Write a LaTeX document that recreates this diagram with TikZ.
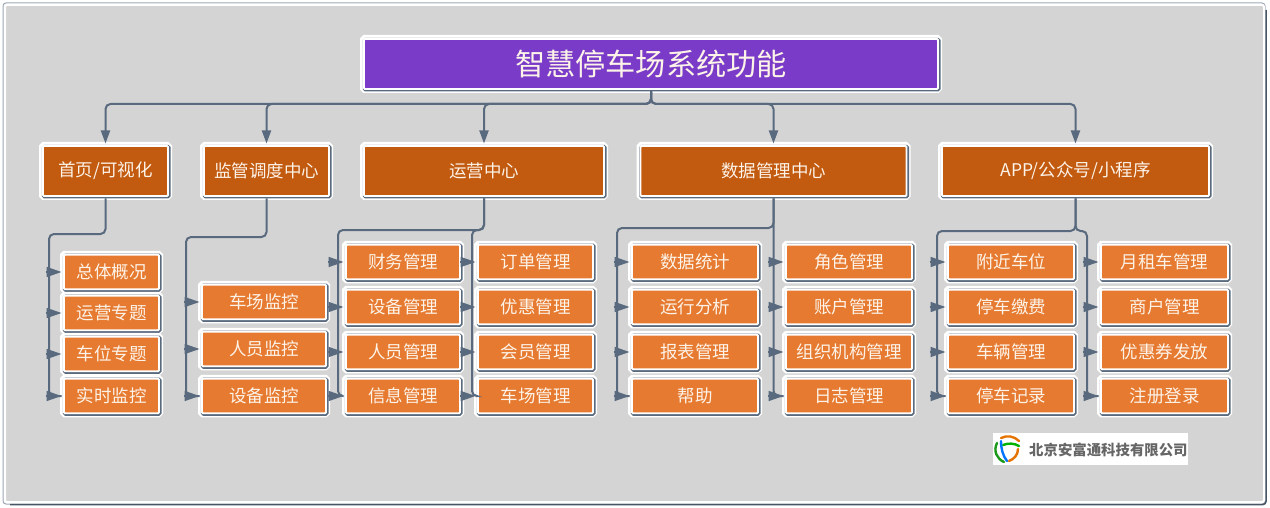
\documentclass[tikz,border=0pt]{standalone}
\usepackage{fontspec}
\setmainfont{Noto Sans CJK SC}
\usetikzlibrary{arrows.meta}

\definecolor{framebg}{HTML}{D4D4D4}
\definecolor{linkgray}{HTML}{5A6A7E}
\definecolor{titlefill}{HTML}{7A3CC8}
\definecolor{mainfill}{HTML}{C25A10}
\definecolor{subfill}{HTML}{E67A30}
\definecolor{labelwhite}{HTML}{FDF3E8}

\tikzset{
  box/.style={draw=white, line width=1.8pt, rounded corners=1pt, inner sep=0pt, outer sep=2.5pt,
    text=labelwhite, align=center,
    preaction={draw=white, line width=8pt},
    preaction={draw=linkgray, line width=3.6pt, transform canvas={xshift=0.7pt,yshift=-0.7pt}}},
  titlebox/.style={box, fill=titlefill, font=\fontsize{30.2}{32}\selectfont},
  mainbox/.style={box, fill=mainfill, minimum height=50pt, font=\fontsize{17.5}{20}\selectfont},
  subbox/.style={box, fill=subfill, minimum height=34.5pt, font=\fontsize{17.5}{20}\selectfont},
  link/.style={draw=linkgray, line width=2pt, rounded corners=5pt},
  toplink/.style={link, -{Triangle[length=13pt,width=9pt]}},
  stub/.style={draw=linkgray, line width=1.5pt, -{Triangle[length=15pt,width=10pt]}}
}

\begin{document}
\begin{tikzpicture}[x=1pt,y=-1pt]
\useasboundingbox (0,0) rectangle (1270,508);

% frame
\draw[draw=linkgray!60, line width=1pt, rounded corners=3pt] (3,3) rectangle (1265,504);
\draw[draw=linkgray!80!black, line width=1.5pt, rounded corners=3pt] (1266,10) -- (1266,504.5) -- (10,504.5);
\draw[draw=white, fill=framebg, line width=2pt, rounded corners=2pt] (5,5) rectangle (1264,502);

% top boxes
\node[titlebox, minimum width=574pt, minimum height=50pt] (title) at (651,64) {智慧停车场系统功能};
\node[mainbox, minimum width=125pt] (home) at (105.5,171) {首页/可视化};
\node[mainbox, minimum width=125pt] (monitor) at (266.5,171) {监管调度中心};
\node[mainbox, minimum width=240pt] (ops) at (484,171) {运营中心};
\node[mainbox, minimum width=266pt] (data) at (773.5,171) {数据管理中心};
\node[mainbox, minimum width=267pt] (app) at (1075.5,171) {APP/公众号/小程序};

% left columns
\foreach \i/\yc/\txt in {1/272/总体概况,2/313/运营专题,3/354/车位专题,4/396/实时监控}{
  \node[subbox, minimum width=95pt] (home\i) at (111.5,\yc) {\txt};
}
\foreach \i/\yc/\txt in {1/302/车场监控,2/349/人员监控,3/396/设备监控}{
  \node[subbox, minimum width=124pt] (monitor\i) at (264,\yc) {\txt};
}

% columns with four equal rows
\foreach \col/\xc/\boxw/\txta/\txtb/\txtc/\txtd in {
  finance/403/114/财务管理/设备管理/人员管理/信息管理,
  order/535.5/115/订单管理/优惠管理/会员管理/车场管理,
  stats/695/126/数据统计/运行分析/报表管理/帮助,
  role/849/126/角色管理/账户管理/组织机构管理/日志管理,
  near/1011/126/附近车位/停车缴费/车辆管理/停车记录,
  rent/1164.5/127/月租车管理/商户管理/优惠券发放/注册登录}{
  \node[subbox, minimum width=\boxw pt] (\col1) at (\xc,262) {\txta};
  \node[subbox, minimum width=\boxw pt] (\col2) at (\xc,307) {\txtb};
  \node[subbox, minimum width=\boxw pt] (\col3) at (\xc,352) {\txtc};
  \node[subbox, minimum width=\boxw pt] (\col4) at (\xc,396) {\txtd};
}

% logo
\node[fill=white, minimum width=195pt, minimum height=32pt, inner sep=0pt] (logo) at (1090.5,449) {};
\node[anchor=west, inner sep=0pt, text=black!60, font=\fontsize{14.4}{16}\selectfont\bfseries] (company) at (1029,449.5) {北京安富通科技有限公司};
\begin{scope}[line width=2.4pt, line cap=round]
\draw[color=green!55!black!90] (997,443) .. controls (993,451) and (997,459) .. (1004,462);
\draw[color=orange!90!black] (1001,438) .. controls (1007,435) and (1014,436) .. (1019,441);
\draw[color=green!70!black] (1003,445) .. controls (1008,443) and (1014,443) .. (1019,446);
\draw[color=blue!55!cyan] (1001,441) .. controls (1001,449) and (1003,456) .. (1007,461);
\draw[color=orange!90!black] (1018,449) .. controls (1018,455) and (1014,459) .. (1009,461);
\end{scope}

% top level
\coordinate (hub) at (651,104);
\foreach \target in {home,monitor,ops,data,app}{
  \draw[toplink] (title.south) -- (hub) -| (\target.north);
}

% lines to the columns
\coordinate (homebus) at (49,234);
\coordinate (monitorbus) at (186,237);
\coordinate (financebus) at (338,230);
\coordinate (orderbus) at (472,230);
\coordinate (statsbus) at (617,228);
\coordinate (nearbus) at (937,231);
\coordinate (rentbus) at (1087,231);

\draw[link] (home.south) |- (homebus) |- (home4.west);
\draw[link] (monitor.south) |- (monitorbus) |- (monitor3.west);
\draw[link] (ops.south) |- (financebus) |- (finance4.west);
\draw[link] (ops.south) |- (orderbus) |- (order4.west);
\draw[link] (data.south) |- (statsbus) |- (stats4.west);
\draw[link] (data.south) |- (role4.west);
\draw[link] (app.south) |- (nearbus) |- (near4.west);
\draw[link] (app.south) |- (rentbus) |- (rent4.west);

% arrow stubs
\foreach \col in {home,finance,order,stats,role,near,rent}{
  \foreach \n in {1,2,3,4}{
    \draw[stub] ([xshift=-16pt]\col\n.west) -- (\col\n.west);
  }
}
\foreach \n in {1,2,3}{
  \draw[stub] ([xshift=-16pt]monitor\n.west) -- (monitor\n.west);
}
\end{tikzpicture}
\end{document}
